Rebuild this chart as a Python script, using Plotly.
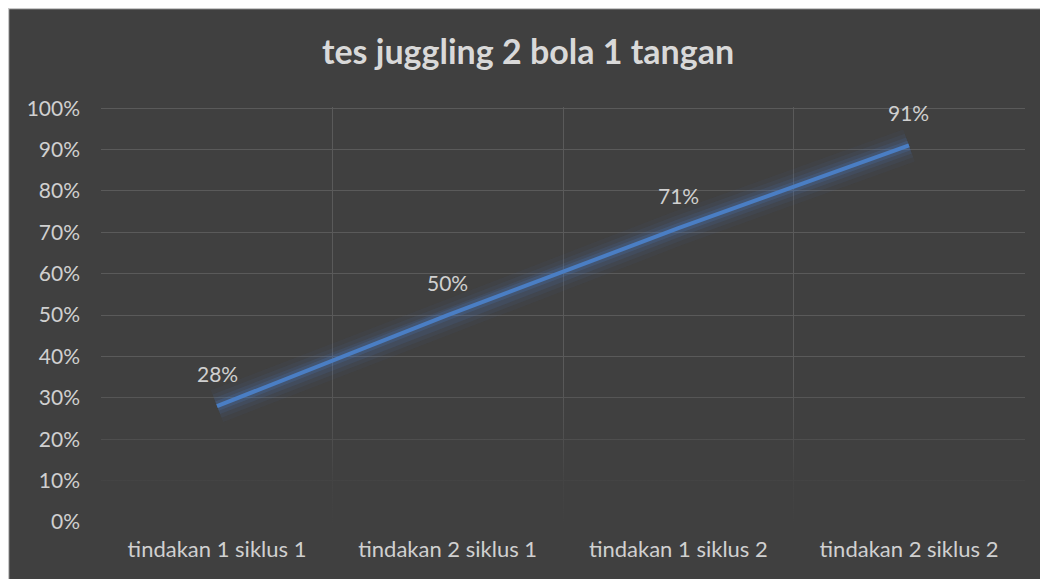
import plotly.graph_objects as go

categories = ["tindakan 1 siklus 1", "tindakan 2 siklus 1", "tindakan 1 siklus 2", "tindakan 2 siklus 2"]
values = [0.28, 0.50, 0.71, 0.91]
labels = ["28%", "50%", "71%", "91%"]
y_ticks = [0, 0.1, 0.2, 0.3, 0.4, 0.5, 0.6, 0.7, 0.8, 0.9, 1.0]
y_ticklabels = ["0%", "10%", "20%", "30%", "40%", "50%", "60%", "70%", "80%", "90%", "100%"]

FONT = "Lato"
TXT = "#d0d0d0"
BG = "#404040"
GRID = "#5a5a5a"
LINE = "#4a7ec4"
W, H = 1040, 571

xpos = list(range(len(categories)))
n = len(categories)
bounds = [i - 0.5 for i in range(n + 1)]

fig = go.Figure()
# fade of the lower grid (gradient veil drawn under the line)
fig.add_trace(go.Scatter(
    x=[bounds[0] - 0.01, bounds[-1] + 0.01, bounds[-1] + 0.01, bounds[0] - 0.01],
    y=[-0.01, -0.01, 0.36, 0.36], mode="lines", line=dict(width=0),
    fill="toself",
    fillgradient=dict(type="vertical",
                      colorscale=[[0, "rgba(64,64,64,1)"], [0.3, "rgba(64,64,64,0.85)"],
                                  [0.6, "rgba(64,64,64,0.4)"], [1, "rgba(64,64,64,0)"]]),
    hoverinfo="skip", showlegend=False))
# glow layers
for w, a in [(34, 0.05), (25, 0.08), (17, 0.12), (10, 0.2)]:
    fig.add_trace(go.Scatter(x=xpos, y=values, mode="lines",
                             line=dict(color=f"rgba(74,126,196,{a})", width=w),
                             hoverinfo="skip", showlegend=False))
fig.add_trace(go.Scatter(x=xpos, y=values, mode="lines",
                         line=dict(color=LINE, width=4), showlegend=False))

for xp, v, t in zip(xpos, values, labels):
    fig.add_annotation(x=xp, y=v, text=t, showarrow=False, yshift=33,
                       font=dict(family=FONT, size=21, color=TXT))

fig.update_layout(
    width=W, height=H,
    paper_bgcolor=BG, plot_bgcolor=BG,
    margin=dict(l=93, r=23, t=99, b=57),
    title=dict(text="<b>tes juggling 2 bola 1 tangan</b>", x=0.5, xanchor="center",
               y=1 - 44 / H, yanchor="middle", yref="container",
               font=dict(family=FONT, size=34, color="#d9d9d9")),
    xaxis=dict(range=[bounds[0] - 0.003, bounds[-1] + 0.003],
               tickvals=xpos, ticktext=categories, showgrid=False,
               minor=dict(tickvals=bounds, showgrid=True, gridcolor=GRID, gridwidth=1, ticks=""),
               ticks="", showline=False, zeroline=False,
               tickfont=dict(family=FONT, size=22, color=TXT), ticklabelstandoff=12),
    yaxis=dict(range=[0, 1.003], tickvals=y_ticks, ticktext=y_ticklabels,
               showgrid=True, gridcolor=GRID, gridwidth=1,
               zeroline=False, showline=False, ticks="",
               tickfont=dict(family=FONT, size=21, color=TXT), ticklabelstandoff=20),
    shapes=[
        dict(type="line", xref="paper", yref="paper", x0=-93/924, x1=1+23/924,
             y0=1 + 99/415 - 0.5/415, y1=1 + 99/415 - 0.5/415,
             line=dict(color="#c8c8c8", width=1.5), layer="above"),
        dict(type="line", xref="paper", yref="paper", x0=-93/924 + 0.5/924, x1=-93/924 + 0.5/924,
             y0=-57/415, y1=1 + 99/415, line=dict(color="#c8c8c8", width=1.5), layer="above"),
    ],
)

fig.write_html("out.html")
